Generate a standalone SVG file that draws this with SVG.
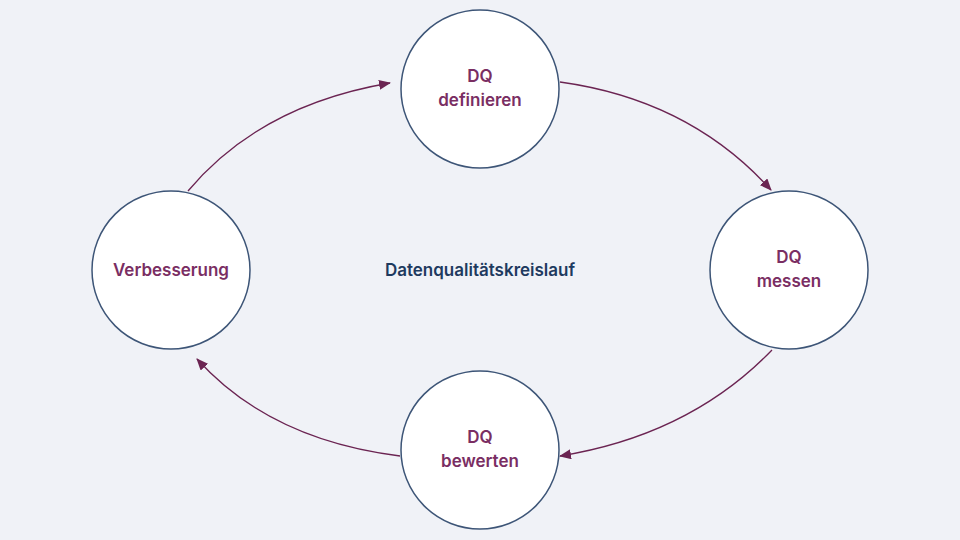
<svg xmlns="http://www.w3.org/2000/svg" width="960" height="540" viewBox="0 0 960 540">
<defs>
<marker id="ah" markerWidth="12" markerHeight="10" refX="11" refY="5" orient="auto" markerUnits="userSpaceOnUse" viewBox="0 0 12 10"><path d="M0,0 L12,5 L0,10 Z" fill="#6b2452"/></marker>
<style>
.n{fill:#fff;stroke:#3d5577;stroke-width:1.5}
.t{font-family:"Inter","Liberation Sans",sans-serif;font-size:17px;font-weight:600;fill:#7a2e63;text-anchor:middle}
.c{fill:none;stroke:#6b2452;stroke-width:1.3;marker-end:url(#ah)}
</style>
</defs>
<rect width="960" height="540" fill="#f0f2f7"/>
<g id="connectors">
<path class="c" d="M560,82 Q690,100 771,190"/>
<path class="c" d="M772,350 Q690,435 560,456"/>
<path class="c" d="M400,456 Q270,440 197,359"/>
<path class="c" d="M188,191 Q260,105 390,83"/>
</g>
<g id="n1"><circle class="n" cx="480" cy="89" r="79"/><text class="t" x="480" y="82">DQ</text><text class="t" x="480" y="106">definieren</text></g>
<g id="n2"><circle class="n" cx="789" cy="270" r="79"/><text class="t" x="789" y="263">DQ</text><text class="t" x="789" y="287">messen</text></g>
<g id="n3"><circle class="n" cx="480" cy="450" r="79"/><text class="t" x="480" y="443">DQ</text><text class="t" x="480" y="467">bewerten</text></g>
<g id="n4"><circle class="n" cx="171" cy="270" r="79"/><text class="t" x="171" y="276">Verbesserung</text></g>
<g id="center"><text x="480" y="276" style="font-family:Inter,'Liberation Sans',sans-serif;font-size:17px;font-weight:600;fill:#1e3a5f;text-anchor:middle">Datenqualitätskreislauf</text></g>
</svg>
